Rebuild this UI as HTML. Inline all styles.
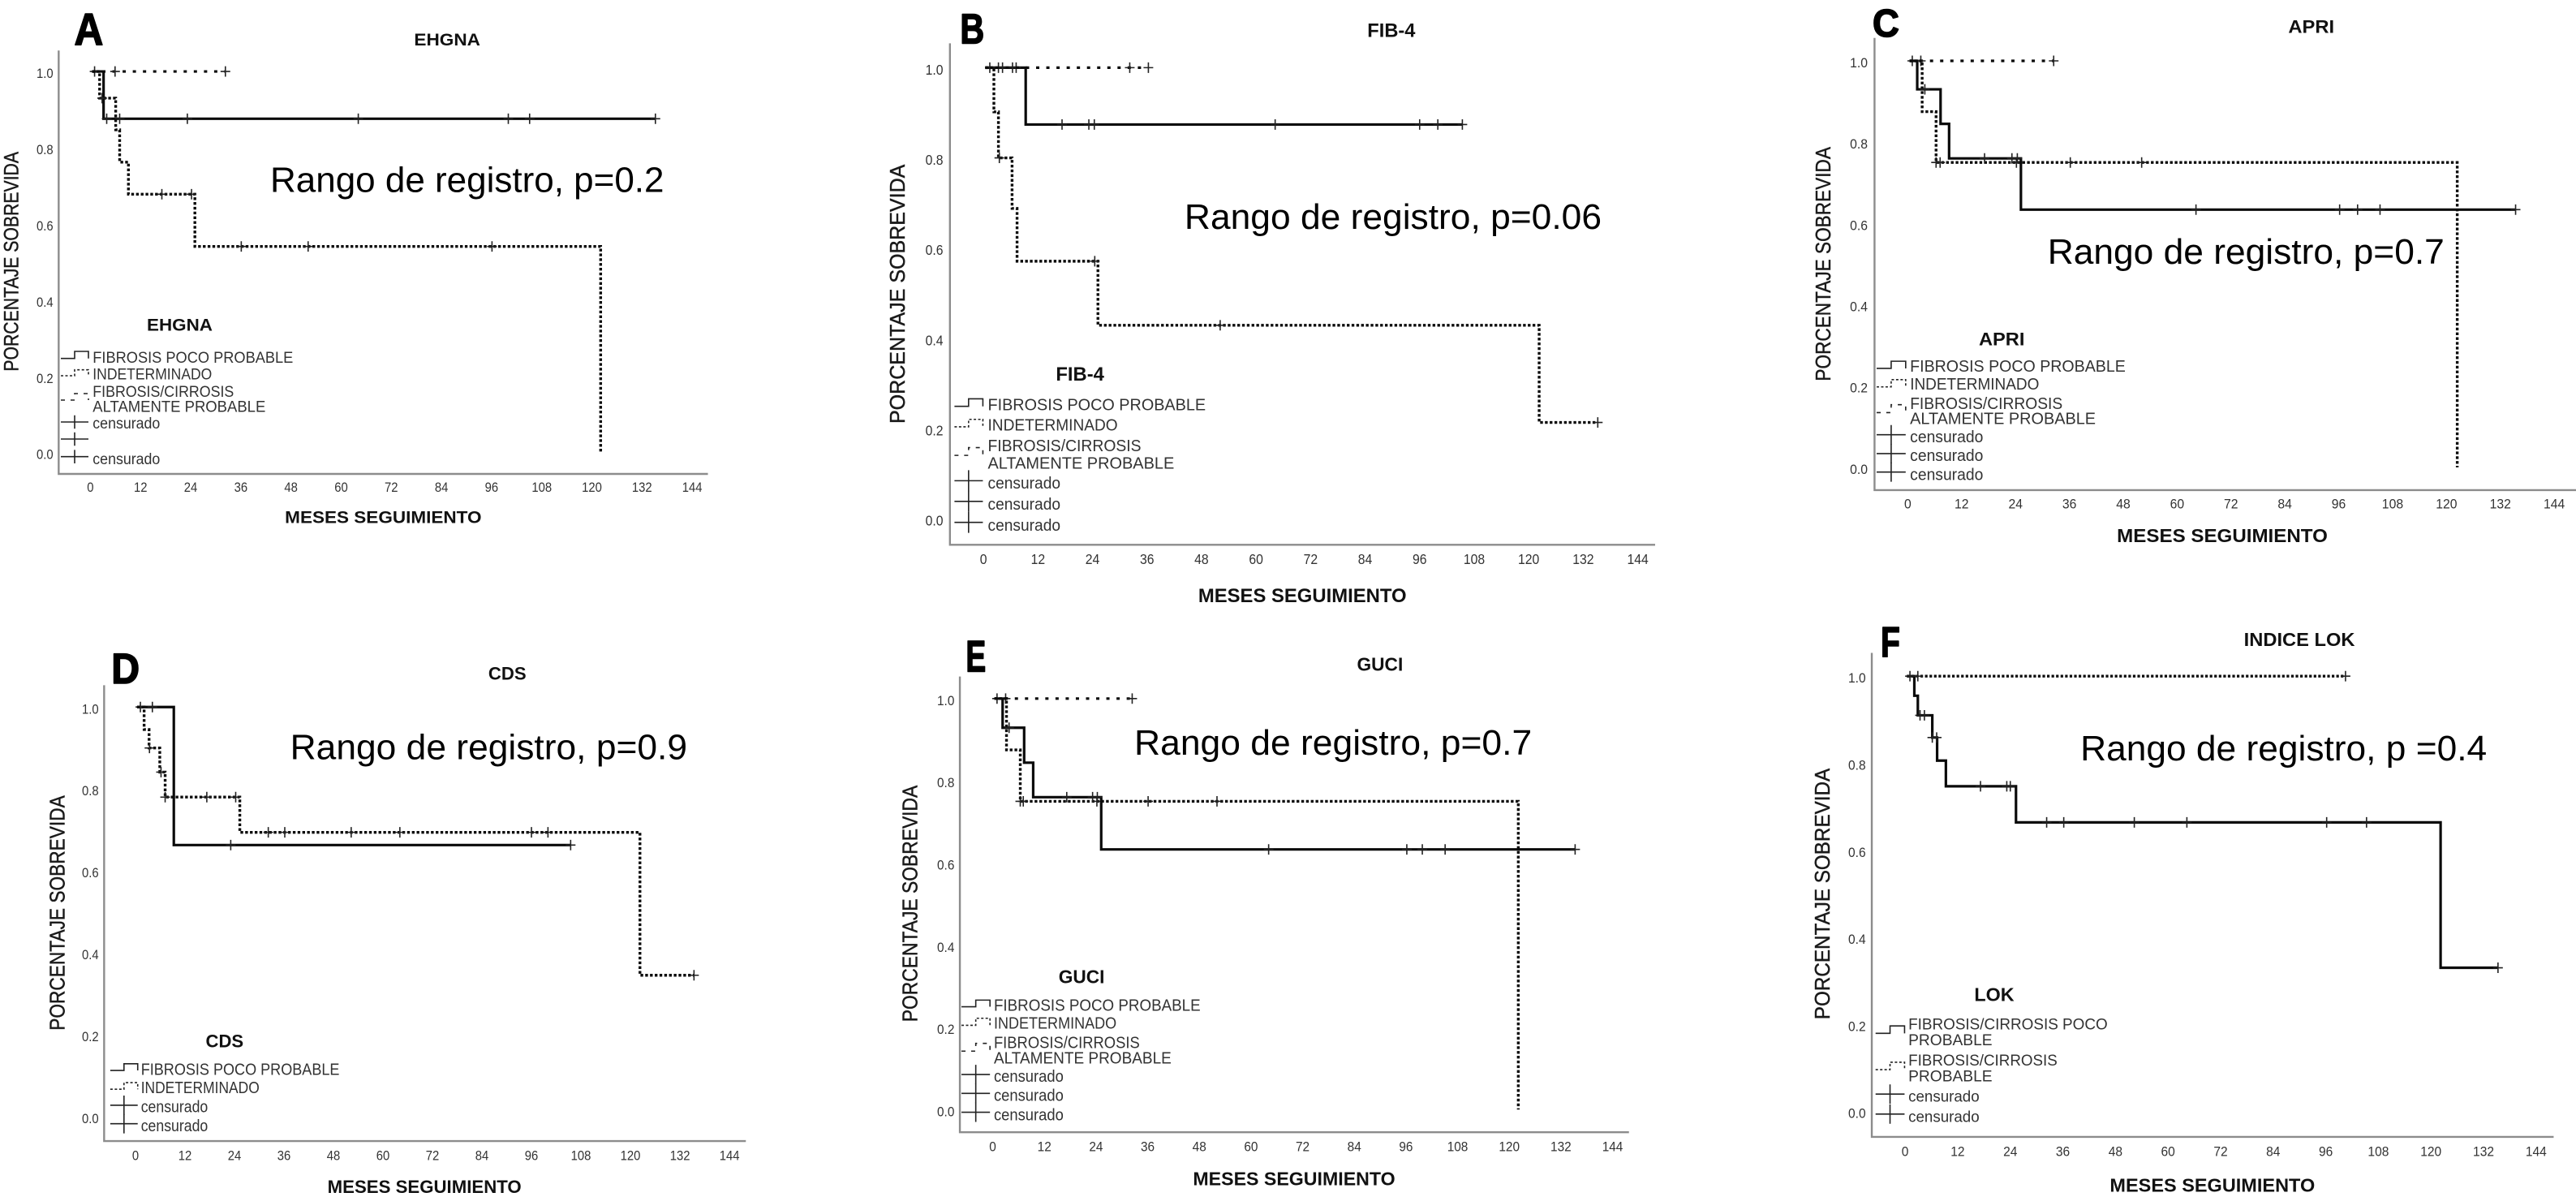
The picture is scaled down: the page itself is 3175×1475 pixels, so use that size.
<!DOCTYPE html>
<html lang="es">
<head>
<meta charset="utf-8">
<title>Curvas de supervivencia por puntuación de fibrosis</title>
<style>
html,body{margin:0;padding:0;background:#fff}
svg{display:block}
text{font-family:"Liberation Sans",sans-serif;fill:#000}
.big{font-weight:700;stroke:#000;stroke-width:1.6;stroke-linejoin:round}
.ttl{font-weight:700;fill:#111}
.rng{font-size:44px;fill:#000}
.lg{fill:#333}
.yt{fill:#1a1a1a;stroke:#1a1a1a;stroke-width:.45}
.sym{fill:none;stroke:#222;stroke-width:1.6}
.d1{stroke-dasharray:3 2.5}
.d2{stroke-dasharray:5 7}
</style>
</head>
<body>
<svg xmlns="http://www.w3.org/2000/svg" width="3175" height="1475" viewBox="0 0 3175 1475">
<rect width="3175" height="1475" fill="#fff"/>

<g id="panel-a" transform="scale(.9949)">
<text class="big" x="92" y="56" font-size="56" textLength="36">A</text>
<text class="ttl" x="513" y="56.5" font-size="21" textLength="82">EHGNA</text>
<text class="rng" x="334.7" y="237.8" textLength="488">Rango de registro, p=0.2</text>
<text class="yt" transform="translate(22.4 460) rotate(-90)" font-size="25" textLength="272">PORCENTAJE SOBREVIDA</text>
<text class="ttl" x="353" y="648" font-size="21" textLength="243.6">MESES SEGUIMIENTO</text>
<g transform="scale(1.00513)">
<text class="ttl" x="181" y="407.5" font-size="21" textLength="81">EHGNA</text>
<path class="sym" d="M75 441.7H92V433H109V441.7"/>
<text class="lg" x="114.3" y="447" font-size="19" textLength="247">FIBROSIS POCO PROBABLE</text>
<path class="sym d1" d="M75 463H92V455.7H109V463"/>
<text class="lg" x="114.3" y="467.7" font-size="19" textLength="147">INDETERMINADO</text>
<path class="sym d2" d="M75 493H92V485H109V493"/>
<text class="lg" x="114.3" y="489" font-size="19" textLength="174">FIBROSIS/CIRROSIS</text>
<text class="lg" x="114.3" y="507.7" font-size="19" textLength="213">ALTAMENTE PROBABLE</text>
<path class="sym" d="M75 520H109M92 511.7V528.3"/>
<text class="lg" x="114.3" y="528" font-size="19" textLength="83">censurado</text>
<path class="sym" d="M75 541H109M92 532.7V549.3"/>
<path class="sym" d="M75 562.7H109M92 554.4V571"/>
<text class="lg" x="114.3" y="572" font-size="19" textLength="83">censurado</text>
</g>
</g>

<g id="panel-b" transform="translate(1060 0) scale(.9949) translate(-1060 0)">
<text class="big" x="1184" y="54" font-size="52" textLength="30">B</text>
<text class="ttl" x="1688.5" y="45.5" font-size="24" textLength="59.5">FIB-4</text>
<text class="rng" x="1462" y="283.5" textLength="516.7">Rango de registro, p=0.06</text>
<text class="yt" transform="translate(1115.5 524.7) rotate(-90)" font-size="26" textLength="321">PORCENTAJE SOBREVIDA</text>
<text class="ttl" x="1479" y="746" font-size="24" textLength="258">MESES SEGUIMIENTO</text>
<text class="ttl" x="1302.6" y="471.5" font-size="24" textLength="59.8">FIB-4</text>
<g>
<path class="sym" d="M1177 503.3H1194.5V494H1212.2V503.3"/>
<text class="lg" x="1218.3" y="508" font-size="20" textLength="270">FIBROSIS POCO PROBABLE</text>
<path class="sym d1" d="M1177 528.6H1194.5V519.4H1212.2V528.6"/>
<text class="lg" x="1218.3" y="533" font-size="20" textLength="161">INDETERMINADO</text>
<path class="sym d2" d="M1177 564H1194.5V554.4H1212.2V564"/>
<text class="lg" x="1218.3" y="559" font-size="20" textLength="190">FIBROSIS/CIRROSIS</text>
<text class="lg" x="1218.3" y="580.5" font-size="20" textLength="231">ALTAMENTE PROBABLE</text>
<path class="sym" d="M1177 595.4H1212.2M1194.5 582.4V608.4"/>
<text class="lg" x="1218.3" y="605" font-size="20" textLength="90">censurado</text>
<path class="sym" d="M1177 621H1212.2M1194.5 608V634"/>
<text class="lg" x="1218.3" y="631" font-size="20" textLength="90">censurado</text>
<path class="sym" d="M1177 647H1212.2M1194.5 634V660"/>
<text class="lg" x="1218.3" y="657.5" font-size="20" textLength="90">censurado</text>
</g>
</g>

<g id="panel-c" transform="translate(2120 0) scale(.9949) translate(-2120 0)">
<text class="big" x="2309" y="45" font-size="48" textLength="33">C</text>
<text class="ttl" x="2824" y="40.8" font-size="22" textLength="57">APRI</text>
<text class="rng" x="2525.8" y="326.6" textLength="491.6">Rango de registro, p=0.7</text>
<text class="yt" transform="translate(2256.5 472) rotate(-90)" font-size="26" textLength="290">PORCENTAJE SOBREVIDA</text>
<text class="ttl" x="2611.7" y="671.3" font-size="23" textLength="261">MESES SEGUIMIENTO</text>
<text class="ttl" x="2440.6" y="427.5" font-size="22" textLength="56.8">APRI</text>
<g>
<path class="sym" d="M2314 456.3H2332V447.4H2350V456.3"/>
<text class="lg" x="2355.4" y="460.6" font-size="20" textLength="267">FIBROSIS POCO PROBABLE</text>
<path class="sym d1" d="M2314 479.2H2332V470.2H2350V479.2"/>
<text class="lg" x="2355.4" y="482.6" font-size="20" textLength="160">INDETERMINADO</text>
<path class="sym d2" d="M2314 511H2332V501.2H2350V511"/>
<text class="lg" x="2355.4" y="506.4" font-size="20" textLength="189">FIBROSIS/CIRROSIS</text>
<text class="lg" x="2355.4" y="525.3" font-size="20" textLength="230">ALTAMENTE PROBABLE</text>
<path class="sym" d="M2314 538.4H2350M2332 526.4V550.4"/>
<text class="lg" x="2355.4" y="548" font-size="20" textLength="90.6">censurado</text>
<path class="sym" d="M2314 561.8H2350M2332 549.8V573.8"/>
<text class="lg" x="2355.4" y="571" font-size="20" textLength="90.6">censurado</text>
<path class="sym" d="M2314 584.7H2350M2332 572.7V596.7"/>
<text class="lg" x="2355.4" y="594.3" font-size="20" textLength="90.6">censurado</text>
</g>
</g>

<g id="panel-d" transform="translate(0 760) scale(.9949) translate(0 -760)">
<text class="big" x="138" y="842.5" font-size="53" textLength="35">D</text>
<text class="ttl" x="605" y="837.7" font-size="22" textLength="47">CDS</text>
<text class="rng" x="359.5" y="936.4" textLength="491.9">Rango de registro, p=0.9</text>
<text class="yt" transform="translate(80 1272.4) rotate(-90)" font-size="26" textLength="291">PORCENTAJE SOBREVIDA</text>
<text class="ttl" x="405.7" y="1473.8" font-size="22" textLength="240.3">MESES SEGUIMIENTO</text>
<text class="ttl" x="254.8" y="1293" font-size="22" textLength="46.9">CDS</text>
<g>
<path class="sym" d="M136.6 1321.9H153.6V1313.6H170.6V1321.9"/>
<text class="lg" x="174.6" y="1327.5" font-size="20" textLength="246">FIBROSIS POCO PROBABLE</text>
<path class="sym d1" d="M136.6 1345.2H153.6V1337H170.6V1345.2"/>
<text class="lg" x="174.6" y="1350" font-size="20" textLength="146.8">INDETERMINADO</text>
<path class="sym" d="M136.6 1365H170.6M153.6 1353V1377"/>
<text class="lg" x="174.6" y="1373.5" font-size="20" textLength="83">censurado</text>
<path class="sym" d="M136.6 1387.9H170.6M153.6 1375.9V1399.9"/>
<text class="lg" x="174.6" y="1397.5" font-size="20" textLength="83">censurado</text>
</g>
</g>

<g id="panel-e" transform="translate(1060 760) scale(.9949) translate(-1060 -760)">
<text class="big" x="1191" y="828" font-size="55" textLength="25">E</text>
<text class="ttl" x="1675.6" y="827" font-size="23" textLength="57.1">GUCI</text>
<text class="rng" x="1399.8" y="931" textLength="492.6">Rango de registro, p=0.7</text>
<text class="yt" transform="translate(1131 1261.8) rotate(-90)" font-size="26" textLength="293">PORCENTAJE SOBREVIDA</text>
<text class="ttl" x="1472.5" y="1464" font-size="23" textLength="250.5">MESES SEGUIMIENTO</text>
<text class="ttl" x="1306" y="1214" font-size="23" textLength="57">GUCI</text>
<g>
<path class="sym" d="M1185.7 1243H1203.4V1234.8H1221V1243"/>
<text class="lg" x="1225.8" y="1248.2" font-size="20" textLength="256">FIBROSIS POCO PROBABLE</text>
<path class="sym d1" d="M1185.7 1266H1203.4V1257.3H1221V1266"/>
<text class="lg" x="1225.8" y="1270.2" font-size="20" textLength="152">INDETERMINADO</text>
<path class="sym d2" d="M1185.7 1298H1203.4V1288.4H1221V1298"/>
<text class="lg" x="1225.8" y="1294" font-size="20" textLength="180.7">FIBROSIS/CIRROSIS</text>
<text class="lg" x="1225.8" y="1313.3" font-size="20" textLength="220">ALTAMENTE PROBABLE</text>
<path class="sym" d="M1185.7 1327H1221M1203.4 1315V1339"/>
<text class="lg" x="1225.8" y="1336" font-size="20" textLength="86.3">censurado</text>
<path class="sym" d="M1185.7 1350.3H1221M1203.4 1338.3V1362.3"/>
<text class="lg" x="1225.8" y="1359.8" font-size="20" textLength="86.3">censurado</text>
<path class="sym" d="M1185.7 1373.7H1221M1203.4 1361.7V1385.7"/>
<text class="lg" x="1225.8" y="1383.6" font-size="20" textLength="86.3">censurado</text>
</g>
</g>

<g id="panel-f" transform="translate(2120 750) scale(.9949) translate(-2120 -750)">
<text class="big" x="2319" y="810" font-size="53" textLength="24">F</text>
<text class="ttl" x="2769" y="796" font-size="23" textLength="137.5">INDICE LOK</text>
<text class="rng" x="2566.4" y="938.2" textLength="503.6">Rango de registro, p =0.4</text>
<text class="yt" transform="translate(2255.8 1258.8) rotate(-90)" font-size="26" textLength="311">PORCENTAJE SOBREVIDA</text>
<text class="ttl" x="2602.9" y="1472.3" font-size="23" textLength="254.1">MESES SEGUIMIENTO</text>
<text class="ttl" x="2435" y="1236" font-size="23" textLength="49.5">LOK</text>
<g>
<path class="sym" d="M2312.7 1276H2330.6V1266.8H2348.6V1276"/>
<text class="lg" x="2353.3" y="1271.4" font-size="19.5" textLength="246.8">FIBROSIS/CIRROSIS POCO</text>
<text class="lg" x="2353.3" y="1291" font-size="19.5" textLength="104">PROBABLE</text>
<path class="sym d1" d="M2312.7 1321H2330.6V1311.8H2348.6V1321"/>
<text class="lg" x="2353.3" y="1316" font-size="19.5" textLength="184.6">FIBROSIS/CIRROSIS</text>
<text class="lg" x="2353.3" y="1335.5" font-size="19.5" textLength="104">PROBABLE</text>
<path class="sym" d="M2312.7 1351.3H2348.6M2330.6 1339.3V1363.3"/>
<text class="lg" x="2353.3" y="1360.5" font-size="19.5" textLength="88">censurado</text>
<path class="sym" d="M2312.7 1376H2348.6M2330.6 1364V1388"/>
<text class="lg" x="2353.3" y="1386" font-size="19.5" textLength="88">censurado</text>
</g>
</g>
</svg>

<script>
// ---- shared tick labels ----
const xTickLabels = [0, 12, 24, 36, 48, 60, 72, 84, 96, 108, 120, 132, 144];
const yTickLabels = ["0.0", "0.2", "0.4", "0.6", "0.8", "1.0"];

// ---- Panel A: EHGNA ----
const aPocoTimes = [0.4, 3.15, 135.2];
const aPocoSurv = [1, 0.876, 0.876];
const aPocoCensored = [1, 3.9, 7, 23.2, 64.1, 100, 105.1, 135.2];
const aIndetTimes = [0.4, 2.2, 6.05, 7, 9.1, 25, 122.1];
const aIndetSurv = [1, 0.93, 0.847, 0.762, 0.678, 0.541, 0];
const aIndetCensored = [2.8, 17.1, 24.2, 36.1, 52.1, 96.1];
const aAltaTimes = [0.4, 32.3];
const aAltaSurv = [1, 1];
const aAltaCensored = [5.9, 32.3];

// ---- Panel B: FIB-4 ----
const bPocoTimes = [0.4, 9.3, 105.4];
const bPocoSurv = [1, 0.874, 0.874];
const bPocoCensored = [1.4, 3.3, 4.2, 6.4, 7.2, 17.3, 23.2, 24.4, 64.2, 96, 100, 105.4];
const bIndetTimes = [0.4, 2.3, 3.3, 6.3, 7.4, 25.2, 122.3, 135.2];
const bIndetSurv = [1, 0.902, 0.80, 0.688, 0.571, 0.429, 0.2136, 0.2136];
const bIndetCensored = [3.5, 24.5, 52.1, 135.2];
const bAltaTimes = [0.4, 36.3];
const bAltaSurv = [1, 1];
const bAltaCensored = [32.2, 36.3];

// ---- Panel C: APRI ----
const cPocoTimes = [0.4, 2.1, 7.3, 9.2, 25.2, 135.4];
const cPocoSurv = [1, 0.93, 0.845, 0.76, 0.634, 0.634];
const cPocoCensored = [3.8, 17.1, 23.2, 24.4, 64.2, 96.2, 100.2, 105.2, 135.4];
const cIndetTimes = [0.4, 3.2, 6.3, 122.4];
const cIndetSurv = [1, 0.875, 0.75, 0];
const cIndetCensored = [6.3, 7.2, 24.2, 36.2, 52.1];
const cAltaTimes = [0.4, 32.5];
const cAltaSurv = [1, 1];
const cAltaCensored = [1, 2.9, 32.5];

// ---- Panel D: CDS ----
const dPocoTimes = [0.4, 9.3, 105.5];
const dPocoSurv = [1, 0.663, 0.663];
const dPocoCensored = [1.2, 4.1, 23.1, 105.5];
const dIndetTimes = [0.4, 2.1, 3.3, 5.9, 7.2, 25.3, 122.3, 135.4];
const dIndetSurv = [1, 0.945, 0.90, 0.841, 0.78, 0.694, 0.345, 0.345];
const dIndetCensored = [3.4, 6.2, 7.2, 17.3, 24.3, 32.2, 36.2, 52.3, 64.1, 96, 100, 135.4];

// ---- Panel E: GUCI ----
const ePocoTimes = [0.4, 2.3, 7.3, 9.4, 25.2, 135.3];
const ePocoSurv = [1, 0.929, 0.844, 0.76, 0.633, 0.633];
const ePocoCensored = [3.8, 17.2, 23.2, 24.3, 64.1, 96.2, 99.8, 105.1, 135.3];
const eIndetTimes = [0.4, 3.2, 6.4, 122.1];
const eIndetSurv = [1, 0.875, 0.75, 0];
const eIndetCensored = [6.4, 7.1, 24.2, 36.1, 52.1];
const eAltaTimes = [0.4, 32.4];
const eAltaSurv = [1, 1];
const eAltaCensored = [1, 3, 32.4];

// ---- Panel F: LOK ----
const fPocoTimes = [0.4, 2.1, 2.9, 6.2, 7.3, 9.3, 25.3, 122.2, 135.3];
const fPocoSurv = [1, 0.955, 0.91, 0.859, 0.806, 0.747, 0.664, 0.33, 0.33];
const fPocoCensored = [3.4, 4.4, 6.2, 7.2, 17.2, 23.2, 24, 32.3, 36.2, 52.3, 64.3, 96.2, 105.3, 135.3];
const fProbTimes = [0.4, 100.5];
const fProbSurv = [1, 1];
const fProbCensored = [1.1, 2.9, 100.5];

// ---- axis geometry and series wiring (not data) ----
const panels = [
  { id:"panel-a", axisX:72.7, axisTop:62.6, axisBottom:587, axisRight:877, x0:112, x144:857.5, y1:88.5, y0:560.7, yLabelRight:66, xLabelY:603, tick:16.5, digitW:8.3,
    series:[ {t:aPocoTimes,s:aPocoSurv,c:aPocoCensored,k:"solid"}, {t:aIndetTimes,s:aIndetSurv,c:aIndetCensored,k:"dotted"}, {t:aAltaTimes,s:aAltaSurv,c:aAltaCensored,k:"sparse"} ] },
  { id:"panel-b", axisX:1171.4, axisTop:53.6, axisBottom:674.8, axisRight:2045, x0:1212.9, x144:2023.5, y1:83.8, y0:642.6, yLabelRight:1163, xLabelY:692.3, tick:18, digitW:8.8,
    series:[ {t:bPocoTimes,s:bPocoSurv,c:bPocoCensored,k:"solid"}, {t:bIndetTimes,s:bIndetSurv,c:bIndetCensored,k:"dotted"}, {t:bAltaTimes,s:bAltaSurv,c:bAltaCensored,k:"sparse"} ] },
  { id:"panel-c", axisX:2311.4, axisTop:47, axisBottom:607, axisRight:3185, x0:2352.6, x144:3153.4, y1:75.4, y0:578.8, yLabelRight:2303, xLabelY:623.7, tick:17, digitW:8.8,
    series:[ {t:cAltaTimes,s:cAltaSurv,c:cAltaCensored,k:"sparse"}, {t:cIndetTimes,s:cIndetSurv,c:cIndetCensored,k:"dotted"}, {t:cPocoTimes,s:cPocoSurv,c:cPocoCensored,k:"solid"} ] },
  { id:"panel-d", axisX:129, axisTop:844.8, axisBottom:1409.4, axisRight:924, x0:167.8, x144:903.7, y1:871.8, y0:1379, yLabelRight:122.3, xLabelY:1426.8, tick:17, digitW:8.3,
    series:[ {t:dPocoTimes,s:dPocoSurv,c:dPocoCensored,k:"solid"}, {t:dIndetTimes,s:dIndetSurv,c:dIndetCensored,k:"dotted"} ] },
  { id:"panel-e", axisX:1183.7, axisTop:834, axisBottom:1398.4, axisRight:2012.6, x0:1224.4, x144:1992.3, y1:861.3, y0:1370.4, yLabelRight:1177, xLabelY:1415.8, tick:17, digitW:8.6,
    series:[ {t:eAltaTimes,s:eAltaSurv,c:eAltaCensored,k:"sparse"}, {t:eIndetTimes,s:eIndetSurv,c:eIndetCensored,k:"dotted"}, {t:ePocoTimes,s:ePocoSurv,c:ePocoCensored,k:"solid"} ] },
  { id:"panel-f", axisX:2308, axisTop:804.8, axisBottom:1404.3, axisRight:3152.7, x0:2349.3, x144:3131, y1:833.6, y0:1372.7, yLabelRight:2300.6, xLabelY:1422, tick:17, digitW:8.7,
    series:[ {t:fPocoTimes,s:fPocoSurv,c:fPocoCensored,k:"solid"}, {t:fProbTimes,s:fProbSurv,c:fProbCensored,k:"dense"} ] }
];

const SVGNS = "http://www.w3.org/2000/svg";
function mk(tag, attrs, parent) {
  const n = document.createElementNS(SVGNS, tag);
  for (const a in attrs) n.setAttribute(a, attrs[a]);
  parent.appendChild(n);
  return n;
}
function survivalAt(times, surv, t) {
  let v = surv[0];
  for (let i = 0; i < times.length; i++) { if (times[i] <= t) v = surv[i]; }
  return v;
}
const strokeStyles = {
  solid:  { "stroke-width": 3.2 },
  dotted: { "stroke-width": 3.4, "stroke-dasharray": "3.4 2.5" },
  dense:  { "stroke-width": 3.4, "stroke-dasharray": "3.2 2.4" },
  sparse: { "stroke-width": 3.2, "stroke-dasharray": "4 8.6" }
};

panels.forEach(function (p) {
  const root = document.getElementById(p.id);
  const sx = function (t) { return p.x0 + (p.x144 - p.x0) * t / 144; };
  const sy = function (v) { return p.y0 + (p.y1 - p.y0) * v; };

  const axes = mk("path", { d: "M" + p.axisX + " " + p.axisTop + "V" + p.axisBottom + "H" + p.axisRight, fill: "none", stroke: "#8c8c8c", "stroke-width": 2.4 }, root);
  
  

  xTickLabels.forEach(function (v) {
    const s = String(v);
    const tl = mk("text", { x: sx(v), y: p.xLabelY + p.tick * 0.36, "font-size": p.tick, "text-anchor": "middle", textLength: s.length * p.digitW, lengthAdjust: "spacingAndGlyphs" }, root);
    tl.style.fill = "#333";
    tl.textContent = s;
    
    
  });
  yTickLabels.forEach(function (s) {
    const w = 2 * p.digitW + p.digitW * 0.5;
    const tl = mk("text", { x: p.yLabelRight - w, y: sy(parseFloat(s)) + 2 + p.tick * 0.36, "font-size": p.tick, textLength: w, lengthAdjust: "spacingAndGlyphs" }, root);
    tl.style.fill = "#333";
    tl.textContent = s;
    
    
  });

  p.series.forEach(function (ser) {
    let d = "M" + sx(ser.t[0]) + " " + sy(ser.s[0]);
    for (let i = 1; i < ser.t.length; i++) {
      d += "H" + sx(ser.t[i]) + "V" + sy(ser.s[i]);
    }
    const attrs = Object.assign({ d: d, fill: "none", stroke: "#0a0a0a" }, strokeStyles[ser.k]);
    const curve = mk("path", attrs, root);
    
    

    ser.c.forEach(function (t) {
      const cx = sx(t), cy = sy(survivalAt(ser.t, ser.s, t));
      const mark = mk("path", { d: "M" + (cx - 6) + " " + cy + "H" + (cx + 6) + "M" + cx + " " + (cy - 6.5) + "V" + (cy + 6.5), fill: "none", stroke: "#222", "stroke-width": 1.6 }, root);
      
      
    });
  });
});

document.querySelectorAll("text[textLength]").forEach(function (n) {
  n.setAttribute("lengthAdjust", "spacingAndGlyphs");
});
</script>
</body>
</html>
